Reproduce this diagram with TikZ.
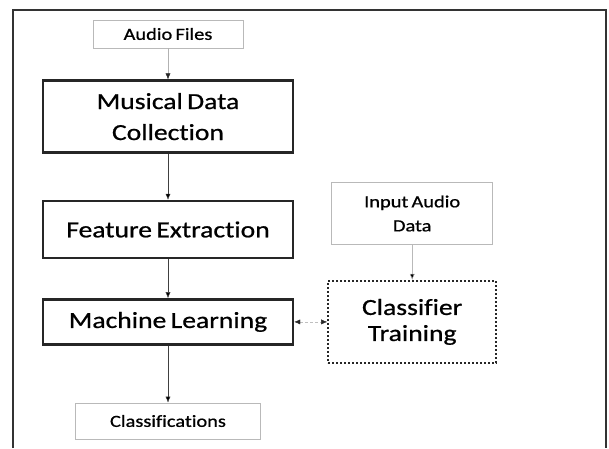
\documentclass[tikz,border=0pt]{standalone}
\usepackage{fontspec}
\setmainfont{Carlito}[FakeStretch=1.2, FakeBold=0.8, Ligatures=NoCommon, WordSpace=0.7]
\usetikzlibrary{arrows.meta, positioning}

\begin{document}
\begin{tikzpicture}[x=1pt, y=-1pt, node distance={31pt},
    main/.style = {draw=black!85, line width=2.4pt, minimum width=250pt, inner sep=0pt, align=center, font=\fontsize{23}{31}\selectfont},
    light/.style = {draw=gray!55, line width=0.8pt, inner sep=0pt, align=center, font=\fontsize{17}{24}\selectfont},
    dotbox/.style = {draw=black!85, line width=2pt, dash pattern=on 2pt off 2pt, inner sep=0pt, align=center, font=\fontsize{23}{26}\selectfont}]
            \useasboundingbox (0,0) rectangle (609,448);
            \draw[line width=1.6pt, black!80] (13,448) |- (606,10) -- (606,448);

            \node[light, minimum width=150pt, minimum height=28pt] (files) at (168,34) {Audio Files};
            \node[main, minimum height=72pt] (collect) [below=of files] {Musical Data\\Collection};
            \node[main, minimum height=57pt] (feature) [below=46pt of collect] {Feature Extraction};
            \node[main, minimum height=45pt] (learn) [below=39pt of feature] {Machine Learning};
            \node[light, minimum width=185pt, minimum height=36pt] (classes) [below=57pt of learn] {Classifications};
            \node[dotbox, minimum width=168pt, minimum height=82pt] (train) [right=33pt of learn] {Classifier\\Training};
            \node[light, minimum width=161pt, minimum height=62pt] (input) [above=35pt of train] {Input Audio\\Data};

            \path[-{Latex[length=6pt, width=5pt, color=black!85]}, draw=gray!60] (files) edge (collect);
            \path[-{Latex[length=6pt, width=5pt]}, draw=black!75] (collect) edge (feature);
            \path[-{Latex[length=6pt, width=5pt]}, draw=black!75] (feature) edge (learn);
            \path[-{Latex[length=6pt, width=5pt]}, draw=black!75] (learn) edge (classes);
            \path[-{Latex[length=6pt, width=5pt]}, draw=gray!55] (input) edge (train);
            % training feeds back into the learner
            \path[{Latex[length=6pt, width=5pt, color=black!85]}-{Latex[length=6pt, width=5pt, color=black!85]}, draw=gray!50, densely dashed] (learn) edge (train);
        \end{tikzpicture}
\end{document}
